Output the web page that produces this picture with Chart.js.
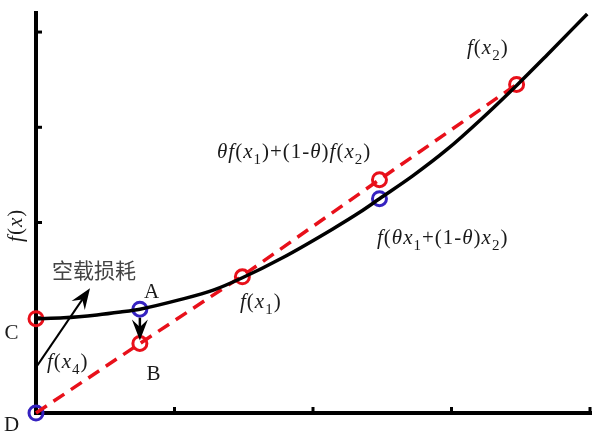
<!DOCTYPE html>
<html>
<head>
<meta charset="utf-8">
<script src="https://cdn.jsdelivr.net/npm/chart.js@4"></script>
<style>
  body { margin: 0; background: #fff; }
</style>
</head>
<body>
<canvas id="c" width="608" height="440"></canvas>
<script>
// convex curve f(x)
var curveX = [0, 0.2, 0.44, 0.61, 0.75, 1.04, 1.28, 1.49, 1.78, 2.14, 2.34, 2.48, 2.72, 2.97, 3.21, 3.47, 3.69, 3.98];
var curveY = [0.99, 1.0, 1.03, 1.06, 1.09, 1.19, 1.29, 1.42, 1.63, 1.93, 2.11, 2.25, 2.49, 2.77, 3.08, 3.44, 3.76, 4.19];
// chord D -> f(x2)
var chordX = [0, 0.75, 1.49, 2.48, 3.47];
var chordY = [0, 0.73, 1.44, 2.45, 3.45];
// marked points
var redX = [0, 0.75, 1.49, 2.48, 3.47];
var redY = [0.99, 0.73, 1.43, 2.45, 3.45];
var blueX = [0, 0.75, 2.48];
var blueY = [0, 1.09, 2.25];
var xTicks = [1, 2, 3, 4];
var yTicks = [1, 2, 3, 4];

// text labels: text, x, y (data coords), align
var labels = [
  ['C', -0.173, 0.84, 'center'],
  ['D', -0.173, -0.126, 'center'],
  ['A', 0.838, 1.27, 'center'],
  ['B', 0.852, 0.40, 'center'],
  ['f(x_4)', 0.079, 0.535, 'left'],
  ['空载损耗', 0.116, 1.50, 'left'],
  ['f(x_1)', 1.473, 1.165, 'left'],
  ['θf(x_1)+(1-θ)f(x_2)', 1.307, 2.74, 'left'],
  ['f(θx_1+(1-θ)x_2)', 2.462, 1.837, 'left'],
  ['f(x_2)', 3.112, 3.83, 'left']
];
var yLabel = 'f(x)';
// arrows: from x,y to x,y
var arrows = [
  [0.01, 0.5, 0.39, 1.31, 2],
  [0.75, 1.0, 0.75, 0.76, 2.5]
];

function pts(xs, ys) {
  return xs.map(function (x, i) { return { x: x, y: ys[i] }; });
}

var serif = '"Liberation Serif", "DejaVu Serif", serif';

// draws text like f(x_1): f, x, θ italic, _ gives subscript
function richText(ctx, str, x, y, align) {
  var size = 21, sub = 15;
  var parts = [];
  for (var i = 0; i < str.length; i++) {
    var ch = str[i];
    if (ch === '_') { parts.push([str[i + 1], 's']); i++; continue; }
    parts.push([ch, 'fxθ'.indexOf(ch) >= 0 ? 'i' : 'n']);
  }
  var w = 0;
  parts.forEach(function (p) {
    ctx.font = (p[1] === 'i' ? 'italic ' : '') + (p[1] === 's' ? sub : size) + 'px ' + serif;
    p.push(ctx.measureText(p[0]).width + 1);
    w += p[2];
  });
  var cx = align === 'center' ? x - w / 2 : x;
  ctx.textBaseline = 'middle';
  ctx.textAlign = 'left';
  parts.forEach(function (p) {
    ctx.font = (p[1] === 'i' ? 'italic ' : '') + (p[1] === 's' ? sub : size) + 'px ' + serif;
    ctx.fillText(p[0], cx, p[1] === 's' ? y + 8 : y);
    cx += p[2];
  });
}

var decor = {
  id: 'decor',
  beforeDatasetsDraw: function (chart) {
    var ctx = chart.ctx, a = chart.chartArea;
    var xs = chart.scales.x, ys = chart.scales.y;
    ctx.save();
    ctx.strokeStyle = '#000';
    ctx.lineWidth = 4;
    ctx.lineCap = 'square';
    ctx.beginPath();
    ctx.moveTo(a.left, a.top);
    ctx.lineTo(a.left, a.bottom);
    ctx.lineTo(xs.getPixelForValue(4), a.bottom);
    ctx.stroke();
    ctx.lineWidth = 3;
    ctx.lineCap = 'butt';
    yTicks.forEach(function (t) {
      var py = ys.getPixelForValue(t);
      ctx.beginPath(); ctx.moveTo(a.left, py); ctx.lineTo(a.left + 6, py); ctx.stroke();
    });
    xTicks.forEach(function (t) {
      var px = xs.getPixelForValue(t);
      ctx.beginPath(); ctx.moveTo(px, a.bottom); ctx.lineTo(px, a.bottom - 6); ctx.stroke();
    });
    ctx.restore();
  },
  afterDatasetsDraw: function (chart) {
    var ctx = chart.ctx;
    var xs = chart.scales.x, ys = chart.scales.y;
    ctx.save();
    ctx.strokeStyle = '#000';
    ctx.fillStyle = '#000';
    arrows.forEach(function (ar) {
      var x1 = xs.getPixelForValue(ar[0]), y1 = ys.getPixelForValue(ar[1]);
      var x2 = xs.getPixelForValue(ar[2]), y2 = ys.getPixelForValue(ar[3]);
      var ang = Math.atan2(y2 - y1, x2 - x1);
      var L = 21, H = 8;
      ctx.lineWidth = ar[4];
      ctx.beginPath();
      ctx.moveTo(x1, y1);
      ctx.lineTo(x2 - Math.cos(ang) * 12, y2 - Math.sin(ang) * 12);
      ctx.stroke();
      ctx.beginPath();
      ctx.moveTo(x2, y2);
      ctx.lineTo(x2 - Math.cos(ang) * L + Math.sin(ang) * H, y2 - Math.sin(ang) * L - Math.cos(ang) * H);
      ctx.lineTo(x2 - Math.cos(ang) * L * 0.65, y2 - Math.sin(ang) * L * 0.65);
      ctx.lineTo(x2 - Math.cos(ang) * L - Math.sin(ang) * H, y2 - Math.sin(ang) * L + Math.cos(ang) * H);
      ctx.closePath();
      ctx.fill();
    });
    ctx.restore();
  },
  afterDraw: function (chart) {
    var ctx = chart.ctx;
    var xs = chart.scales.x, ys = chart.scales.y;
    ctx.save();
    ctx.fillStyle = '#1a1a1a';
    labels.forEach(function (l) {
      var px = xs.getPixelForValue(l[1]), py = ys.getPixelForValue(l[2]);
      if (/[\u4e00-\u9fff]/.test(l[0])) {
        ctx.fillStyle = '#444';
        ctx.font = '21px "Noto Sans CJK SC", sans-serif';
        ctx.textBaseline = 'middle';
        ctx.textAlign = l[3];
        ctx.fillText(l[0], px, py);
        ctx.fillStyle = '#1a1a1a';
      } else {
        richText(ctx, l[0], px, py, l[3]);
      }
    });
    // rotated y label
    ctx.translate(16, ys.getPixelForValue(1.97));
    ctx.rotate(-Math.PI / 2);
    richText(ctx, yLabel, 0, 0, 'center');
    ctx.restore();
  }
};

new Chart(document.getElementById('c'), {
  type: 'scatter',
  data: {
    datasets: [
      {
        data: pts(curveX, curveY),
        showLine: true,
        borderColor: '#000',
        borderWidth: 3.5,
        pointRadius: 0,
        cubicInterpolationMode: 'monotone'
      },
      {
        data: pts(chordX, chordY),
        showLine: true,
        borderColor: '#e8101a',
        borderWidth: 3.5,
        borderDash: [13, 8],
        pointRadius: 0
      },
      {
        data: pts(redX, redY),
        showLine: false,
        pointRadius: 7,
        pointBorderWidth: 3,
        pointBorderColor: '#e8101a',
        pointBackgroundColor: 'rgba(0,0,0,0)'
      },
      {
        data: pts(blueX, blueY),
        showLine: false,
        pointRadius: 7,
        pointBorderWidth: 3,
        pointBorderColor: '#3522c0',
        pointBackgroundColor: 'rgba(0,0,0,0)'
      }
    ]
  },
  options: {
    responsive: false,
    animation: false,
    clip: false,
    layout: { padding: { left: 36, right: 18, top: 13, bottom: 27 } },
    plugins: { legend: { display: false }, tooltip: { enabled: false } },
    scales: {
      x: { type: 'linear', min: 0, max: 4, display: false },
      y: { type: 'linear', min: 0, max: 4.2, display: false }
    }
  },
  plugins: [decor]
});
</script>
</body>
</html>
